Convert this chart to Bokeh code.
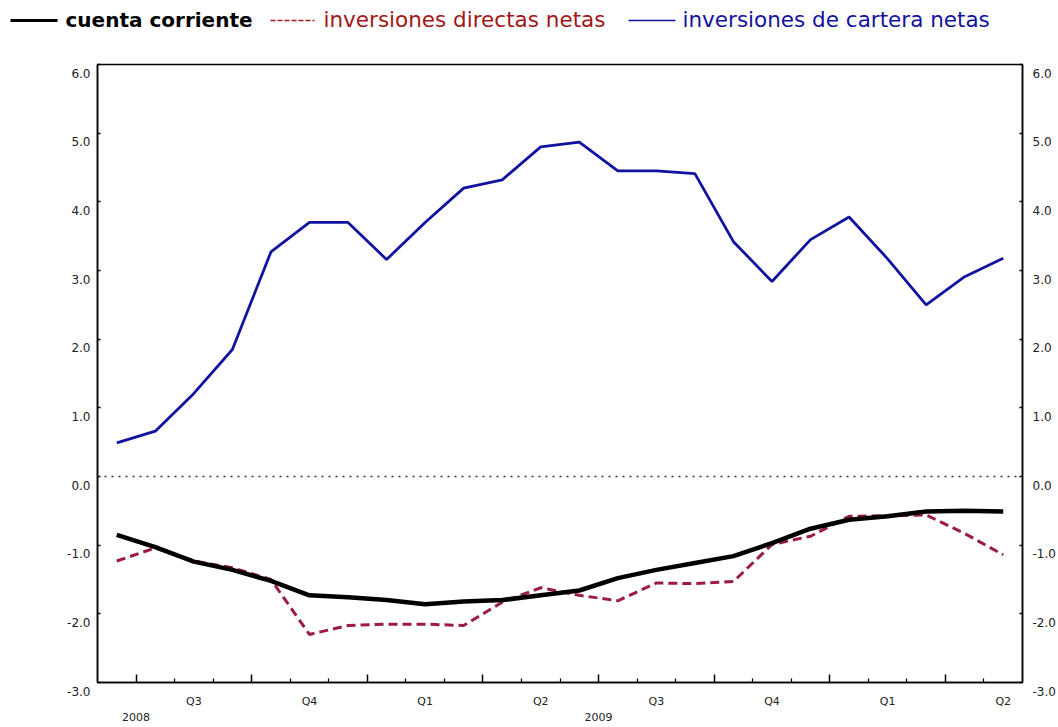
from bokeh.plotting import figure
from bokeh.layouts import column
from bokeh.models import Range1d, FixedTicker, Span, LinearAxis, CustomJSTickFormatter
from bokeh.core.properties import value
from bokeh.embed import file_html
from bokeh.resources import INLINE

# ---- data (monthly, Jun 2008 .. May 2010) ----
periods = ["2008-06", "2008-07", "2008-08", "2008-09", "2008-10", "2008-11", "2008-12",
           "2009-01", "2009-02", "2009-03", "2009-04", "2009-05", "2009-06", "2009-07",
           "2009-08", "2009-09", "2009-10", "2009-11", "2009-12", "2010-01", "2010-02",
           "2010-03", "2010-04", "2010-05"]
cuenta_corriente = [-0.85, -1.03, -1.24, -1.36, -1.52, -1.73, -1.76, -1.80, -1.86, -1.82,
                    -1.80, -1.73, -1.66, -1.48, -1.36, -1.26, -1.16, -0.97, -0.76, -0.63,
                    -0.58, -0.51, -0.50, -0.51]
inversiones_directas = [-1.23, -1.04, -1.23, -1.33, -1.50, -2.30, -2.17, -2.15, -2.15, -2.17,
                        -1.83, -1.62, -1.73, -1.81, -1.55, -1.56, -1.53, -0.99, -0.87, -0.58,
                        -0.57, -0.56, -0.83, -1.14]
inversiones_cartera = [0.49, 0.66, 1.21, 1.85, 3.27, 3.70, 3.70, 3.16, 3.70, 4.20,
                       4.32, 4.80, 4.87, 4.45, 4.45, 4.41, 3.42, 2.84, 3.45, 3.78,
                       3.17, 2.50, 2.91, 3.18]

y_ticks = [-3.0, -2.0, -1.0, 0.0, 1.0, 2.0, 3.0, 4.0, 5.0, 6.0]
quarter_labels = ["Q3", "Q4", "Q1", "Q2", "Q3", "Q4", "Q1", "Q2"]
quarter_starts = [1, 4, 7, 10, 13, 16, 19, 22]   # month index where each quarter begins
year_labels = ["2008", "2009"]
year_positions = [1, 13]
legend_labels = ["cuenta corriente", "inversiones directas netas", "inversiones de cartera netas"]

x = [i + 0.5 for i in range(len(periods))]

BLACK = "#000000"
RED = "#9b1b45"
RED_TXT = "#a31515"
BLUE = "#1212a0"
AXFONT = "DejaVu Sans"
LEGFONT = "DejaVu Sans"
TICK_COL = "#222222"

# ---------------- legend strip ----------------
leg = figure(width=1058, height=40, output_backend="svg", toolbar_location=None,
             x_range=Range1d(0, 1058), y_range=Range1d(40, 0),
             x_axis_location=None, y_axis_location=None, min_border=0)
leg.frame_align = False
leg.grid.visible = False
leg.outline_line_color = None
leg.segment(x0=[10], y0=[20], x1=[57], y1=[20], line_color=BLACK, line_width=3)
leg.segment(x0=[270], y0=[20], x1=[314], y1=[20], line_color=RED_TXT, line_width=1.5, line_dash="5 2")
leg.segment(x0=[628], y0=[20], x1=[675], y1=[20], line_color=BLUE, line_width=1.5)
leg.text(x=[65], y=[19], text=[legend_labels[0]], text_color=BLACK, text_font=value(LEGFONT),
         text_font_size="20px", text_font_style="bold", text_baseline="middle")
leg.text(x=[323], y=[19], text=[legend_labels[1]], text_color=RED_TXT, text_font=value(LEGFONT),
         text_font_size="21.5px", text_baseline="middle")
leg.text(x=[682], y=[19], text=[legend_labels[2]], text_color=BLUE, text_font=value(LEGFONT),
         text_font_size="21.5px", text_baseline="middle")

# ---------------- main chart ----------------
p = figure(width=1058, height=687, output_backend="svg", toolbar_location=None,
           x_range=Range1d(0, 24), y_range=Range1d(-3, 6),
           x_axis_location=None, y_axis_location=None,
           min_border_left=97, min_border_right=36, min_border_top=24, min_border_bottom=45)
p.frame_align = False
p.grid.visible = False
p.outline_line_color = "black"
p.outline_line_width = 1.5

empty = CustomJSTickFormatter(code="return ''")
minor = [m for m in range(1, 24) if m not in quarter_starts]
ax_ticks = LinearAxis(ticker=FixedTicker(ticks=quarter_starts, minor_ticks=minor), formatter=empty,
                      major_tick_in=8, major_tick_out=0, minor_tick_in=4, minor_tick_out=0,
                      axis_line_width=1.5, major_tick_line_width=1.5, minor_tick_line_width=1.2,
                      major_label_standoff=0, major_label_text_font_size="1px")
p.add_layout(ax_ticks, "below")

q_centers = [s + 1.5 for s in quarter_starts]
q_fmt = CustomJSTickFormatter(args=dict(pos=q_centers, lab=quarter_labels),
                              code="const i = pos.indexOf(tick); return i < 0 ? '' : lab[i]")
ax_q = LinearAxis(ticker=FixedTicker(ticks=q_centers, minor_ticks=[]), formatter=q_fmt,
                  axis_line_color=None, major_tick_line_color=None, minor_tick_line_color=None,
                  major_tick_in=0, major_tick_out=0, major_label_standoff=12,
                  major_label_text_font=AXFONT, major_label_text_font_size="11px",
                  major_label_text_color=TICK_COL)
p.add_layout(ax_q, "below")

y_fmt = CustomJSTickFormatter(args=dict(pos=year_positions, lab=year_labels),
                              code="const i = pos.indexOf(tick); return i < 0 ? '' : lab[i]")
ax_y = LinearAxis(ticker=FixedTicker(ticks=year_positions, minor_ticks=[]), formatter=y_fmt,
                  axis_line_color=None, major_tick_line_color=None, minor_tick_line_color=None,
                  major_tick_in=0, major_tick_out=0, major_label_standoff=2,
                  major_label_text_font=AXFONT, major_label_text_font_size="11px",
                  major_label_text_color=TICK_COL)
p.add_layout(ax_y, "below")

# y labels sit a little below their ticks in the original: use a leading empty line
val_fmt = CustomJSTickFormatter(code="return '\\n' + tick.toFixed(1)")
for side, standoff in (("left", 7), ("right", 10)):
    ax = LinearAxis(ticker=FixedTicker(ticks=y_ticks, minor_ticks=[]), formatter=val_fmt,
                    major_tick_in=3, major_tick_out=0, minor_tick_line_color=None,
                    axis_line_width=1.5, major_tick_line_width=1.5, major_label_standoff=standoff,
                    major_label_text_font=AXFONT, major_label_text_font_size="12px",
                    major_label_text_color=TICK_COL, major_label_text_line_height=1.3)
    p.add_layout(ax, side)

p.add_layout(Span(location=0, dimension="width", line_color="#333333", line_width=1.5,
                  line_dash="2 5"))

p.line(x, inversiones_cartera, line_color=BLUE, line_width=2.8)
p.line(x, inversiones_directas, line_color=RED, line_width=3, line_dash="9 5")
p.line(x, cuenta_corriente, line_color=BLACK, line_width=4.5)

layout = column(leg, p, spacing=0)
open("out.html", "w").write(file_html(layout, INLINE))
